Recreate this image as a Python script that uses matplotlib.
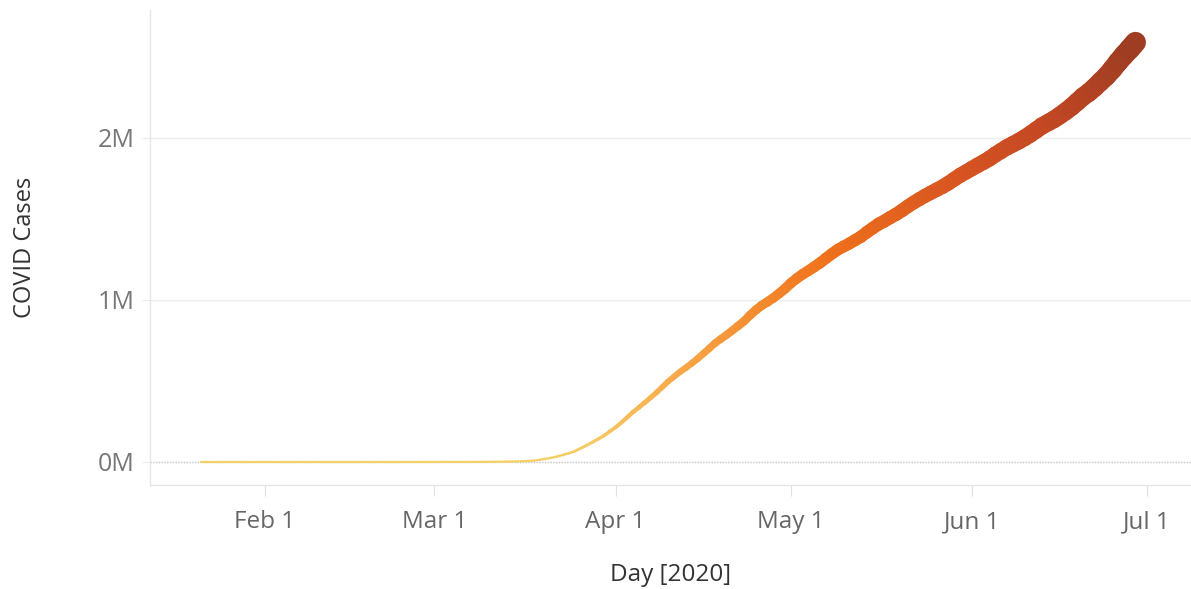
import numpy as np
import pandas as pd
import matplotlib
matplotlib.use("Agg")
import matplotlib.pyplot as plt
import matplotlib.dates as mdates
from matplotlib.collections import LineCollection
from matplotlib.colors import LinearSegmentedColormap

# DATA - cumulative US cases, one value per day from Jan 21 2020
start_day = "2020-01-21"
jan = [1, 1, 1, 2, 2, 5, 5, 5, 5, 5, 6]
feb = [7, 8, 11, 11, 11, 11, 11, 11, 11, 11, 12, 12, 13, 13, 13, 13, 13, 13,
       13, 13, 15, 15, 15, 51, 51, 57, 58, 60, 68]
mar = [74, 98, 118, 149, 217, 262, 402, 518, 583, 959, 1281, 1663, 2179, 2727,
       3499, 4632, 6421, 7786, 13680, 19101, 25493, 33276, 43847, 53740, 65778,
       83836, 101657, 121465, 140909, 161831, 188172]
apr = [213242, 243622, 275367, 308650, 336802, 366317, 397121, 428654, 462780,
       496535, 526396, 555313, 580619, 607670, 636350, 667801, 699706, 732197,
       758809, 784326, 811865, 840351, 869170, 905358, 938154, 965785, 988197,
       1012582, 1039909, 1069424]
may = [1103461, 1132539, 1158040, 1180375, 1204351, 1228603, 1257023, 1283929,
       1309550, 1329260, 1347881, 1369376, 1390406, 1417774, 1442824, 1467820,
       1486757, 1508308, 1528568, 1551853, 1577287, 1600937, 1622612, 1643246,
       1662302, 1681418, 1699933, 1721750, 1746019, 1770165, 1790191]
jun = [1811277, 1831821, 1851520, 1872660, 1897838, 1920061, 1942363, 1961185,
       1979850, 2000702, 2023590, 2048986, 2074526, 2094069, 2114026, 2137731,
       2163290, 2191052, 2222579, 2255119, 2280969, 2312302, 2347491, 2381538,
       2422299, 2467837, 2510259, 2549069, 2590552]

cases = np.array(jan + feb + mar + apr + may + jun, dtype=float)
days = pd.date_range(start_day, periods=len(cases))
x = mdates.date2num(days)

tick_days = ["2020-02-01", "2020-03-01", "2020-04-01", "2020-05-01",
             "2020-06-01", "2020-07-01"]
tick_labels = ["Feb 1", "Mar 1", "Apr 1", "May 1", "Jun 1", "Jul 1"]
y_ticks = [0, 1e6, 2e6]
y_labels = ["0M", "1M", "2M"]

palette = ["#f4d166", "#f8be5c", "#f8aa4c", "#f5983b", "#f3852a", "#ef701b",
           "#e2621f", "#d65322", "#c54923", "#b14223", "#9e3d22"]
cmap = LinearSegmentedColormap.from_list("orange_gold", palette)

plt.rcParams["font.family"] = ["Open Sans", "DejaVu Sans"]

fig = plt.figure(figsize=(11.91, 5.89), dpi=100)
ax = fig.add_axes([0.126, 0.1766, 0.874, 0.8064])

# zero line, dotted
ax.axhline(0, color="#c4c4c4", lw=1, ls=(0, (1, 1)), zorder=1)
for v in y_ticks[1:]:
    ax.axhline(v, color="#ececec", lw=1, zorder=0)

# line with width and colour following the value
pts = np.column_stack([x, cases])
segs = np.stack([pts[:-1], pts[1:]], axis=1)
mid = (cases[:-1] + cases[1:]) / 2
widths = (2.2 + 7.3 * mid / 1e6) * 0.72
colors = cmap(mid / cases.max())
lc = LineCollection(segs, linewidths=widths, colors=colors,
                    capstyle="round", joinstyle="round", zorder=3)
ax.add_collection(lc)

ax.set_xlim(mdates.date2num(pd.Timestamp("2020-01-12 08:00")),
            mdates.date2num(pd.Timestamp("2020-07-08 12:00")))
ax.set_ylim(-0.142e6, 2.79e6)

ax.set_xticks(mdates.date2num(pd.to_datetime(tick_days)))
ax.set_xticklabels(tick_labels)
ax.set_yticks(y_ticks)
ax.set_yticklabels(y_labels)

for s in ["top", "right"]:
    ax.spines[s].set_visible(False)
for s in ["left", "bottom"]:
    ax.spines[s].set_color("#e6e6e6")
    ax.spines[s].set_linewidth(1)

ax.tick_params(axis="x", colors="#e0e0e0", labelcolor="#666666",
               labelsize=17.5, length=8, pad=10)
ax.tick_params(axis="y", colors="#ececec", labelcolor="#777777",
               labelsize=18, length=6, pad=5)

ax.set_xlabel("Day [2020]", fontsize=17.5, color="#333333", labelpad=21)
ax.set_ylabel("COVID Cases", fontsize=17, color="#333333", labelpad=44)

fig.savefig("out.png", dpi=100)
